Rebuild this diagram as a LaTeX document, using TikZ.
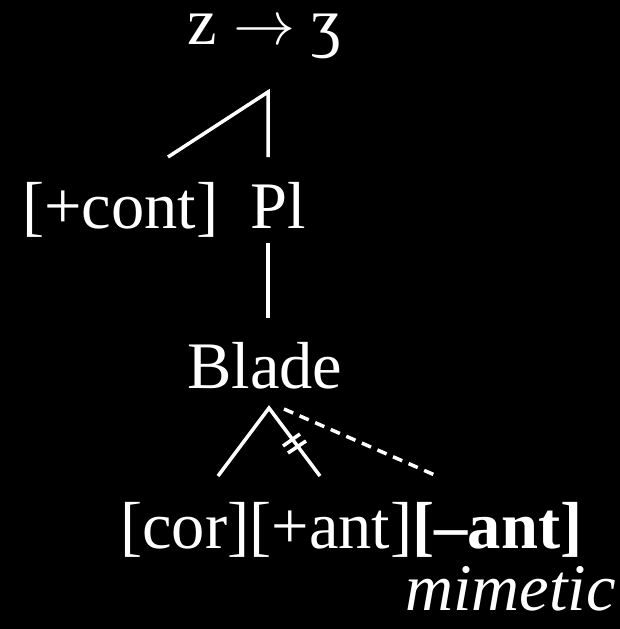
\documentclass[tikz,border=0pt]{standalone}
\usepackage{graphicx}
\usepackage{fontspec}
\setmainfont{Liberation Serif}
\begin{document}
\begin{tikzpicture}[x=1pt,y=-1pt,
  lbl/.style={text=white,inner sep=0pt,anchor=base west,font=\fontsize{66.5}{72}\selectfont},
  ln/.style={draw=white,line width=3.5pt},
  dl/.style={draw=white,line width=3.5pt,dash pattern=on 10pt off 7pt}]
\fill[black] (0,0) rectangle (620,629);
\useasboundingbox (0,0) rectangle (620,629);
\node[lbl] (top) at (187,44) {z \resizebox{62pt}{!}{$\rightarrow$} ʒ};
\node[lbl] (cont) at (22,228) {[+cont]};
\node[lbl] (pl) at (250,228) {Pl};
\node[lbl] (blade) at (187,388) {Blade};
\node[lbl] (feat) at (120,548) {[cor][+ant]\textbf{[–ant]}};
\node[lbl] (mim) at (405,610) {\itshape mimetic};
\coordinate (a1) at (268,92);
\coordinate (a1l) at (168,157);
\coordinate (a1r) at (268,157);
\coordinate (p1) at (268,243);
\coordinate (p2) at (268,318);
\coordinate (b0) at (269,408);
\coordinate (bl) at (218,476);
\coordinate (br) at (320,476);
\coordinate (d0) at (284,409);
\coordinate (d1) at (437,476);
\draw[ln] (a1l) -- (a1) -- (a1r);
\draw[ln] (p1) -- (p2);
\draw[ln] (bl) -- (b0) -- (br);
\draw[dl] (d0) -- (d1);
\draw[ln] (283,446) -- (300,434);
\draw[ln] (288,453) -- (306,441);
\end{tikzpicture}
\end{document}
